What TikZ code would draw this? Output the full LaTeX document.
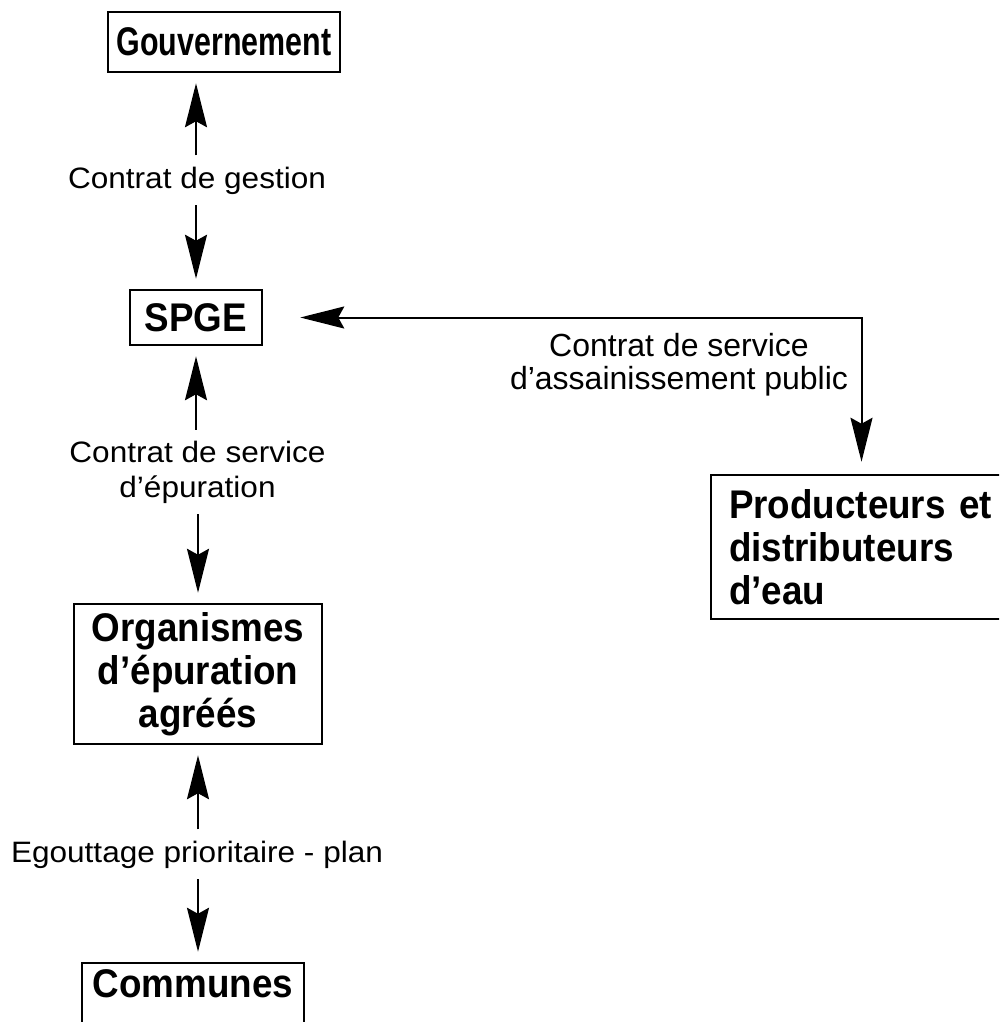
\documentclass[tikz,border=0pt]{standalone}
\usepackage{fontspec}
\setmainfont{Liberation Sans}
\newfontfamily\boxfont[FakeStretch=0.92]{Liberation Sans}
\newfontfamily\govfont[FakeStretch=0.76]{Liberation Sans}
\newfontfamily\widefont[FakeStretch=1.07]{Liberation Sans}
\usetikzlibrary{arrows.meta}
\tikzset{
    bigtip/.tip={Stealth[length=44pt,width=22pt,inset=6pt]},
    boxed/.style={draw, line width=2.5pt, inner sep=0pt, align=center, font=\boxfont\bfseries\fontsize{40}{43}\selectfont},
    lab/.style={inner xsep=0pt, inner ysep=11pt, align=center, font=\widefont\fontsize{29.5}{35}\selectfont},
    arr/.style={line width=2pt, -bigtip, shorten >=10pt}
}
\begin{document}
\begin{tikzpicture}[x=1pt,y=-1pt]
            \useasboundingbox (0,0) rectangle (999,1022);
            \clip (0,0) rectangle (999,1022);
            \node[boxed, font=\govfont\bfseries\fontsize{40}{43}\selectfont, minimum width=232pt, minimum height=60pt] (gov) at (224,42) {Gouvernement};
            \node[boxed, minimum width=132pt, minimum height=55pt] (spge) at (196,317.5) {SPGE};
            \node[boxed, minimum width=248pt, minimum height=140pt] (org) at (198,674) {Organismes\\d’épuration\\agréés};
            \node[boxed, anchor=base, minimum width=222pt, inner ysep=5pt, text height=29pt, text depth=40pt] (com) at (193,997) {Communes};
            \node[boxed, align=left, text width=265pt, inner xsep=18pt, minimum height=144pt] (prod) at (861.5,547) {Producteurs et\\distributeurs\\d’eau};
            \node[lab, anchor=base] (lgest) at (197,188) {Contrat de gestion};
            \node[lab] (lepur) at (197.5,472) {Contrat de service\\d’épuration};
            \node[lab, anchor=base] (legout) at (197,862) {Egouttage prioritaire - plan};
            \node[lab, font=\fontsize{32}{33}\selectfont] (lass) at (679,365) {Contrat de service\\d’assainissement public};
            % vertical contracts
            \draw[arr] (lgest.north -| spge) -- (gov.south -| spge);
            \draw[arr] (lgest.south -| spge) -- (spge.north);
            \draw[arr] (lepur.north -| spge) -- (spge.south);
            \draw[arr] (lepur.south -| org) -- (org.north);
            \draw[arr] (legout.north -| org) -- (org.south);
            \draw[arr] (legout.south -| org) -- (com.north -| org);
            % SPGE to producers
            \draw[arr, bigtip-bigtip, shorten <=37pt, shorten >=12pt] (spge.east) -| (prod.north);
\end{tikzpicture}
\end{document}
